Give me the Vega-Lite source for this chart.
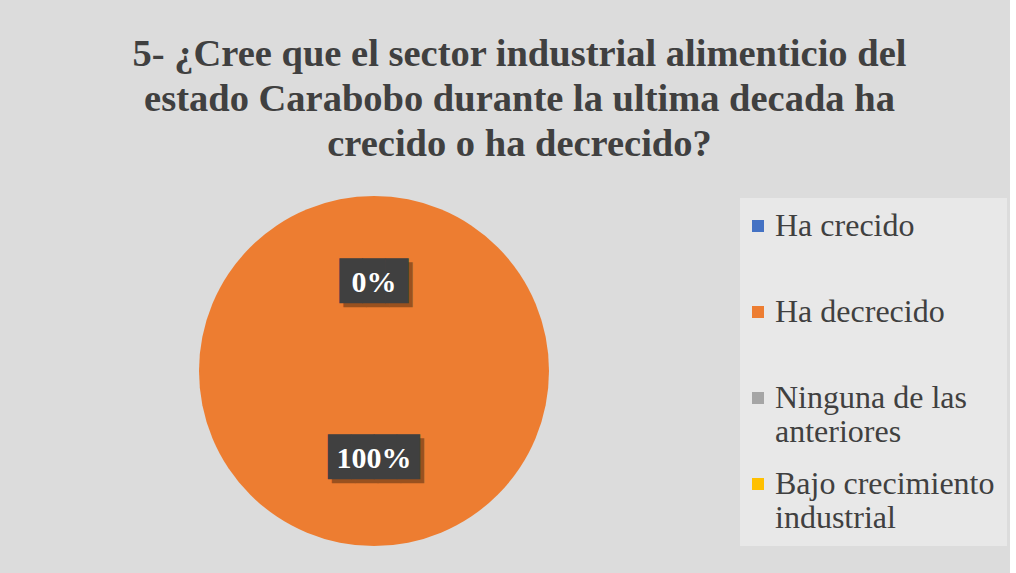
{
  "$schema": "https://vega.github.io/schema/vega-lite/v6.json",
  "width": 732,
  "height": 398,
  "padding": {"left": 8, "top": 34, "right": 3, "bottom": 3},
  "background": "#dcdcdc",
  "title": {
    "text": ["5- ¿Cree que el sector industrial alimenticio del", "estado Carabobo durante la ultima decada ha", "crecido o ha decrecido?"],
    "font": "Liberation Serif",
    "fontSize": 38.5,
    "fontWeight": "bold",
    "color": "#404040",
    "lineHeight": 45,
    "anchor": "middle",
    "frame": "bounds",
    "dx": 12,
    "offset": 8
  },
  "data": {
    "values": [
      {"cat": "Ha crecido", "pct": 0},
      {"cat": "Ha decrecido", "pct": 1},
      {"cat": "Ninguna de las anteriores", "pct": 0},
      {"cat": "Bajo crecimiento industrial", "pct": 0}
    ]
  },
  "encoding": {
    "theta": {"field": "pct", "type": "quantitative", "stack": true}
  },
  "layer": [
    {
      "mark": {"type": "arc", "outerRadius": 175},
      "encoding": {
        "color": {
          "field": "cat",
          "type": "nominal",
          "sort": null,
          "scale": {
            "domain": ["Ha crecido", "Ha decrecido", "Ninguna de las anteriores", "Bajo crecimiento industrial"],
            "range": ["#4472C4", "#ED7D31", "#A5A5A5", "#FFC000"]
          },
          "legend": {
            "title": null,
            "orient": "none",
            "legendX": 732,
            "legendY": 26,
            "fillColor": "#e8e8e8",
            "padding": 12,
            "symbolType": "square",
            "symbolSize": 144,
            "symbolStrokeWidth": 0,
            "symbolOffset": -10,
            "labelFont": "Liberation Serif",
            "labelFontSize": 32,
            "labelColor": "#404040",
            "labelOffset": 1,
            "labelLimit": 400,
            "labelLineHeight": 36,
            "rowPadding": 20,
            "labelExpr": "datum.label == 'Ninguna de las anteriores' ? ['Ninguna de las', 'anteriores'] : datum.label == 'Bajo crecimiento industrial' ? ['Bajo crecimiento', 'industrial'] : [datum.label, '']"
          }
        }
      }
    },
    {
      "transform": [{"filter": "datum.pct > 0 || datum.cat == 'Ha crecido'"}],
      "layer": [
        {
          "mark": {"type": "text", "radius": 88, "font": "DejaVu Sans Mono", "fontSize": 38, "color": "#000000", "opacity": 0.35, "dx": 4, "dy": 4},
          "encoding": {
            "text": {"condition": {"test": "datum.pct == 0", "value": "███"}, "value": "████"}
          }
        },
        {
          "mark": {"type": "text", "radius": 88, "font": "DejaVu Sans Mono", "fontSize": 38, "color": "#404040"},
          "encoding": {
            "text": {"condition": {"test": "datum.pct == 0", "value": "███"}, "value": "████"}
          }
        },
        {
          "mark": {"type": "text", "radius": 88, "font": "Liberation Serif", "fontSize": 30, "fontWeight": "bold", "color": "#ffffff"},
          "encoding": {
            "text": {"field": "pct", "type": "quantitative", "format": ".0%"}
          }
        }
      ]
    }
  ],
  "config": {"view": {"stroke": null}}
}
